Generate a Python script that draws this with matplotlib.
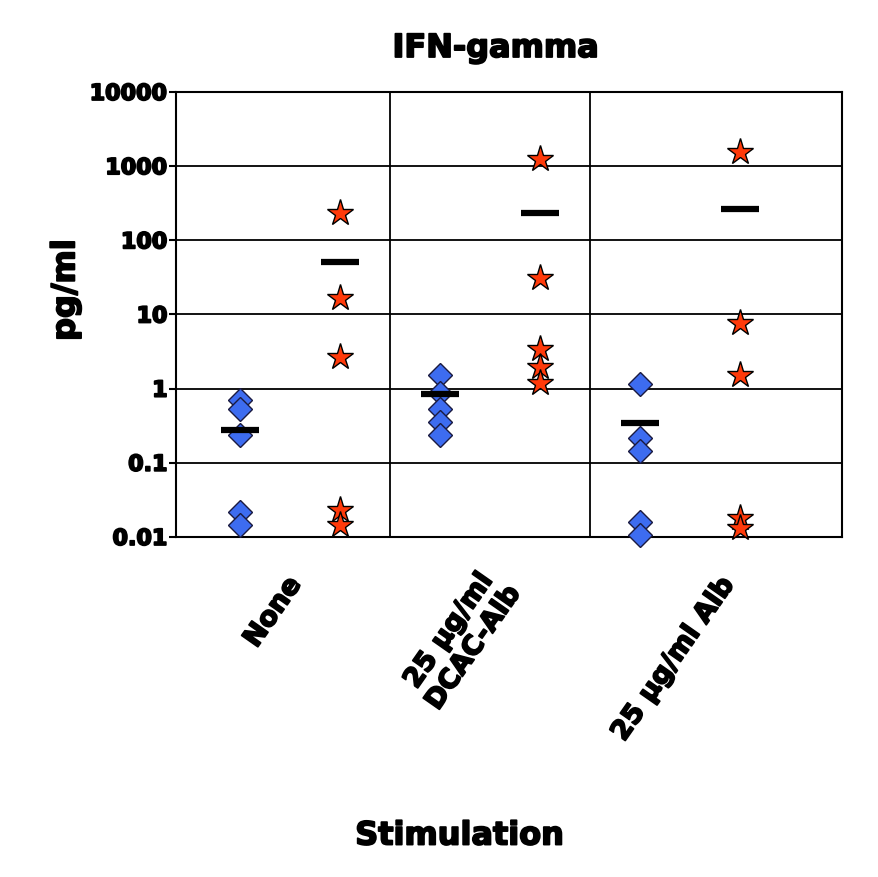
import numpy as np
import matplotlib.pyplot as plt
import matplotlib.patheffects as pe
import matplotlib.transforms as mtransforms

plt.rcParams['font.family'] = ['DejaVu Sans']
plt.rcParams['font.weight'] = 'bold'

# data (pg/ml)
groups = ['None', '25 µg/ml\nDCAC-Alb', '25 µg/ml Alb']
blue_vals = [[0.70, 0.54, 0.237, 0.022, 0.0145],
             [1.52, 0.865, 0.54, 0.358, 0.237],
             [1.15, 0.214, 0.146, 0.0161, 0.0106]]
red_vals = [[230, 16.5, 2.69, 0.0231, 0.0145],
            [1231, 30.6, 3.39, 1.94, 1.18],
            [1560, 7.73, 1.52, 0.0179, 0.0131]]
blue_means = [0.277, 0.84, 0.347]
red_means = [51.3, 235, 263]
yticks = [0.01, 0.1, 1, 10, 100, 1000, 10000]
ytick_labels = ['0.01', '0.1', '1', '10', '100', '1000', '10000']

heavy = [pe.withStroke(linewidth=1.3, foreground='black')]

fig = plt.figure(figsize=(8.79, 8.77), dpi=100)
ax = fig.add_axes([0.2002, 0.3877, 0.7578, 0.5074])
ax.set_yscale('log')

for i in range(len(groups)):
    xb = 2 * i + 1
    xr = 2 * i + 2
    ax.plot([xb] * len(blue_vals[i]), blue_vals[i], ls='none', marker='D', ms=12,
            mfc='#3d6cf0', mec='#1a1a40', mew=1.0, clip_on=False, zorder=3)
    ax.plot([xr] * len(red_vals[i]), red_vals[i], ls='none', marker='*', ms=20,
            mfc='#ff3a0a', mec='black', mew=1.0, clip_on=False, zorder=3)
    ax.plot([xb], [blue_means[i]], marker='_', ms=28, mew=4.5, color='black', zorder=4)
    ax.plot([xr], [red_means[i]], marker='_', ms=28, mew=4.5, color='black', zorder=4)

xlim = (0.36, 7.02)
seps = [2.5, 4.5]
ax.set_xlim(*xlim)
ax.set_ylim(0.01, 10000)
ax.set_yticks(yticks)
ax.set_yticklabels(ytick_labels)
ax.minorticks_off()
ax.yaxis.grid(True, color='black', lw=1.3)
for xv in seps:
    ax.axvline(xv, color='black', lw=1.3)
for s in ax.spines.values():
    s.set_linewidth(1.5)

# category labels sit under the middle of each section
bounds = [xlim[0]] + seps + [xlim[1]]
centers = [(bounds[k] + bounds[k + 1]) / 2 for k in range(len(groups))]
ax.set_xticks(centers)
ax.set_xticklabels(groups, rotation=55, ha='right', va='center', rotation_mode='anchor',
                   multialignment='center', fontsize=19.5, path_effects=heavy)
ax.tick_params(axis='x', length=0, pad=31)
shift = mtransforms.ScaledTranslation(13 / 100, 0, fig.dpi_scale_trans)
for t in ax.get_xticklabels():
    t.set_transform(t.get_transform() + shift)
ax.tick_params(axis='y', length=5, width=1.5, labelsize=16, pad=1)
for t in ax.get_yticklabels():
    t.set_path_effects(heavy)

fig.text(0.564, 0.935, 'IFN-gamma', fontsize=23, fontweight='bold', ha='center',
         va='baseline', path_effects=heavy)
fig.text(0.075, 1 - 290 / 877, 'pg/ml', fontsize=23, fontweight='bold', rotation=90,
         ha='center', va='center', path_effects=heavy)
fig.text(0.523, 0.037, 'Stimulation', fontsize=23, fontweight='bold', ha='center',
         va='baseline', path_effects=heavy)

fig.savefig('out.png', dpi=100)
